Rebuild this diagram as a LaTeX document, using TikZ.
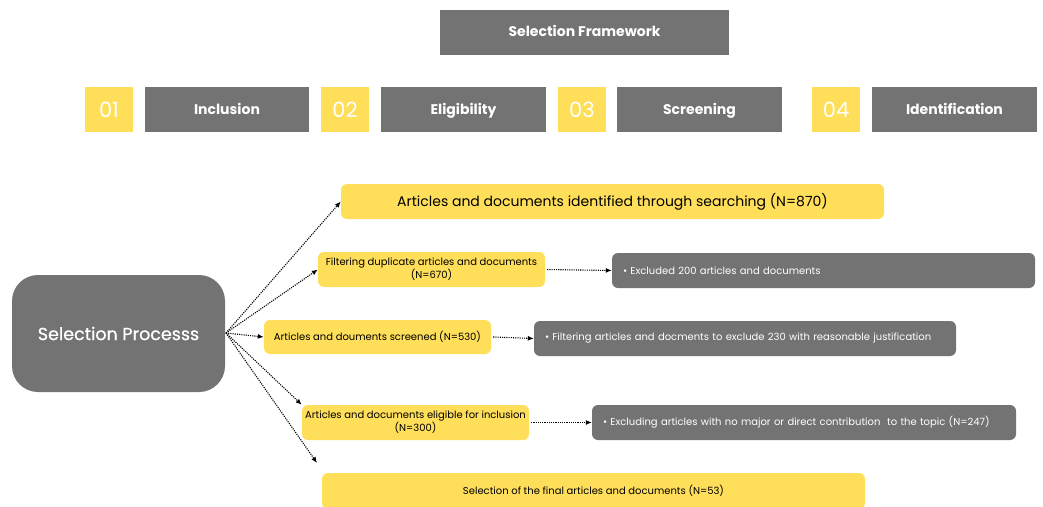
\documentclass[tikz,border=0pt]{standalone}
\usepackage{fontspec}
\setmainfont{Poppins}
\newfontfamily\popmed{Poppins}[UprightFeatures={FakeBold=0.7}]
\usetikzlibrary{arrows.meta}
\definecolor{fwgray}{HTML}{737373}
\definecolor{fwyellow}{HTML}{FFDE59}
\tikzset{
  hdr/.style={fill=fwgray, text=white, inner sep=0pt, minimum height=45pt, text height=9.5pt, text depth=0.5pt, font=\fontsize{14}{16}\selectfont\bfseries},
  num/.style={fill=fwyellow, text=white, inner sep=0pt, minimum width=48pt, minimum height=45pt, font=\fontsize{21}{24}\selectfont},
  ybox/.style={fill=fwyellow, text=black, rounded corners=6pt, inner sep=0pt, minimum height=35pt, align=center, font=\fontsize{10}{12}\selectfont},
  gbox/.style={fill=fwgray, text=white, rounded corners=6pt, inner xsep=11pt, inner ysep=0pt, minimum height=35pt, align=left, font=\fontsize{10}{12}\selectfont},
  arr/.style={line width=1.1pt, dash pattern=on 1.1pt off 1.1pt, -{Latex[length=6pt,width=5pt]}},
}
\begin{document}
\begin{tikzpicture}[x=1pt,y=-1pt]
\useasboundingbox[fill=white] (0,0) rectangle (1043,506);
% header
\node[hdr, minimum width=289pt] (frame) at (584.5,32) {Selection Framework};
\node[num] (n1) at (109,109.5) {01};
\node[hdr, minimum width=164pt] (inc) at (227,109.5) {Inclusion};
\node[num] (n2) at (345,109.5) {02};
\node[hdr, minimum width=165pt] (elig) at (463.5,109.5) {Eligibility};
\node[num] (n3) at (582,109.5) {03};
\node[hdr, minimum width=165pt] (scr) at (699.5,109.5) {Screening};
\node[num] (n4) at (836,109.5) {04};
\node[hdr, minimum width=165pt] (ident) at (954.5,109.5) {Identification};
% selection process
\node[fill=fwgray, text=white, rounded corners=26pt, inner sep=0pt, minimum width=213pt, minimum height=117pt, font=\fontsize{17.5}{20}\popmed] (sel) at (118.5,333.5) {Selection Processs};
% yellow boxes
\node[ybox, minimum width=543pt, font=\fontsize{14}{17}\selectfont] (y1) at (612.5,201.5) {Articles and documents identified through searching (N=870)};
\node[ybox, minimum width=227pt] (y2) at (431.5,269.5) {Filtering duplicate articles and documents\\(N=670)};
\node[ybox, minimum width=227pt, minimum height=34pt] (y3) at (377.5,337) {Articles and douments screened (N=530)};
\node[ybox, minimum width=227pt] (y4) at (415.5,422.5) {Articles and documents eligible for inclusion\\(N=300)};
\node[ybox, minimum width=543pt, minimum height=36pt] (y5) at (593.5,491) {Selection of the final articles and documents (N=53)};
% gray boxes
\node[gbox, text width=401pt] (g2) at (823.5,270.5) {\textbullet\ Excluded 200 articles and documents};
\node[gbox, text width=400pt] (g3) at (745,338.5) {\textbullet\ Filtering articles and docments to exclude 230 with reasonable justification};
\node[gbox, text width=402pt] (g4) at (804,422.5) {\textbullet\ Excluding articles with no major or direct contribution\ \ to the topic (N=247)};
% connectors
\coordinate (s) at (226,333);
\coordinate (e5) at (317,463);
\draw[arr] (s) -- (y1.west);
\draw[arr] (s) -- (y2.west);
\draw[arr] (s) -- (y3.west);
\draw[arr] (s) -- (y4.north west);
\draw[arr] (s) -- (e5);
\draw[arr] ([xshift=2pt]y2.east) -- (g2.west);
\draw[arr] ([xshift=2pt]y3.east) -- (g3.west);
\draw[arr] ([xshift=2pt]y4.east) -- (g4.west);
\end{tikzpicture}
\end{document}
